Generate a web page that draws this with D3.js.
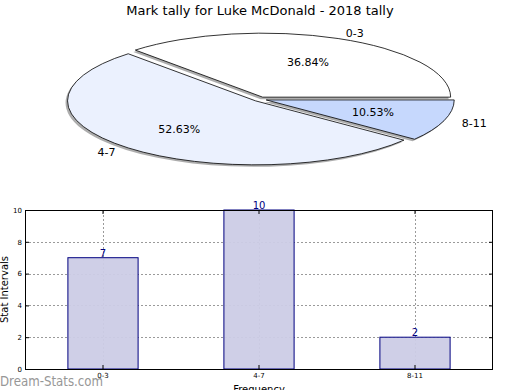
<!DOCTYPE html>
<html>
<head>
<meta charset="utf-8">
<script src="https://cdn.jsdelivr.net/npm/d3@7"></script>
<style>
  body { margin: 0; background: #fff; }
  svg { display: block; font-family: "DejaVu Sans", sans-serif; }
</style>
</head>
<body>
<svg id="chart" width="520" height="390"></svg>
<script>
const title = "Mark tally for Luke McDonald - 2018 tally";
const categories = ["0-3", "4-7", "8-11"];
const counts = [7, 10, 2];
const sliceColors = ["#ffffff", "#ebf1fe", "#c6d8fd"];
const yTicks = [0, 2, 4, 6, 8, 10];

const width = 520, height = 390;
const svg = d3.select("#chart").attr("viewBox", [0, 0, width, height]);

svg.append("text")
  .attr("x", 260).attr("y", 15)
  .attr("text-anchor", "middle")
  .attr("font-size", 13)
  .text(title);

// ---- pie (squashed into an ellipse) ----
const cx = 260, cy = 99.2, rx = 188, ry = 64, R = 100, explode = 0.035;
const total = d3.sum(counts);

// matplotlib starts at 3 o'clock and goes counter-clockwise
const pie = d3.pie().sort(null).startAngle(Math.PI / 2).endAngle(Math.PI / 2 - 2 * Math.PI);
const arcs = pie(counts);
const arc = d3.arc().innerRadius(0).outerRadius(R);

const mid = d => (d.startAngle + d.endAngle) / 2;
const offs = d => [Math.sin(mid(d)) * explode * R, -Math.cos(mid(d)) * explode * R];

const shadow = svg.append("g")
  .attr("transform", `translate(${cx - 2},${cy + 2}) scale(${rx / R},${ry / R})`);
shadow.selectAll("path")
  .data(arcs)
  .join("path")
  .attr("transform", d => `translate(${offs(d)})`)
  .attr("d", arc)
  .attr("fill", "#777")
  .attr("opacity", 0.6);

const pieG = svg.append("g")
  .attr("transform", `translate(${cx},${cy}) scale(${rx / R},${ry / R})`);
pieG.selectAll("path")
  .data(arcs)
  .join("path")
  .attr("transform", d => `translate(${offs(d)})`)
  .attr("d", arc)
  .attr("fill", (d, i) => sliceColors[i])
  .attr("stroke", "#000")
  .attr("stroke-width", 0.8)
  .attr("vector-effect", "non-scaling-stroke");

// labels in pixel space
const toPx = (d, dist) => {
  const a = mid(d);
  return [cx + Math.sin(a) * (dist + explode) * rx, cy - Math.cos(a) * (dist + explode) * ry];
};

svg.append("g").selectAll("text")
  .data(arcs)
  .join("text")
  .attr("x", d => toPx(d, 1.1)[0])
  .attr("y", d => toPx(d, 1.1)[1])
  .attr("dy", "0.35em")
  .attr("text-anchor", d => Math.sin(mid(d)) > 0 ? "start" : "end")
  .attr("font-size", 11)
  .text((d, i) => categories[i]);

svg.append("g").selectAll("text")
  .data(arcs)
  .join("text")
  .attr("x", d => toPx(d, 0.6)[0])
  .attr("y", d => toPx(d, 0.6)[1])
  .attr("dy", "0.35em")
  .attr("text-anchor", "middle")
  .attr("font-size", 11)
  .text(d => (d.value / total * 100).toFixed(2) + "%");

// ---- bar chart ----
const margin = { top: 210, right: 27, bottom: 21, left: 25 };
const x = d3.scaleBand()
  .domain(categories)
  .range([margin.left, width - margin.right])
  .padding(0);
const y = d3.scaleLinear()
  .domain([0, 10])
  .range([height - margin.bottom, margin.top]);

const barW = x.bandwidth() * 0.45;
const xc = c => Math.round(x(c) + x.bandwidth() / 2);

// dotted grid
const grid = svg.append("g");
grid.selectAll(".gy")
  .data(yTicks.slice(1, -1))
  .join("line")
  .attr("x1", x.range()[0]).attr("x2", x.range()[1])
  .attr("y1", d => Math.round(y(d)) + 0.5).attr("y2", d => Math.round(y(d)) + 0.5);
grid.selectAll(".gx")
  .data(categories)
  .join("line")
  .attr("x1", d => xc(d) + 0.5).attr("x2", d => xc(d) + 0.5)
  .attr("y1", y(0)).attr("y2", y(10));
grid.selectAll("line")
  .attr("stroke", "#9a9a9a")
  .attr("stroke-width", 1)
  .attr("stroke-dasharray", "2 2");

svg.append("g").selectAll("rect")
  .data(counts)
  .join("rect")
  .attr("x", (d, i) => xc(categories[i]) - barW / 2)
  .attr("y", d => y(d))
  .attr("width", barW)
  .attr("height", d => y(0) - y(d))
  .attr("fill", "#cccce6")
  .attr("fill-opacity", 0.95)
  .attr("stroke", "#000080")
  .attr("stroke-width", 1);

svg.append("g").selectAll("text")
  .data(counts)
  .join("text")
  .attr("x", (d, i) => xc(categories[i]))
  .attr("y", d => y(d) - 1)
  .attr("text-anchor", "middle")
  .attr("font-size", 10)
  .attr("fill", "#000080")
  .text(d => d);

// axes: ticks inward on all four sides
const yAxisL = d3.axisLeft(y).tickValues(yTicks).tickSize(-4).tickPadding(3);
const yAxisR = d3.axisRight(y).tickValues(yTicks).tickSize(-4).tickFormat("");
const xAxisB = d3.axisBottom(x).tickSize(-4).tickPadding(4);
const xAxisT = d3.axisTop(x).tickSize(-4).tickFormat("");

const styleAxis = g => {
  g.select(".domain").remove();
  g.selectAll("text").attr("font-size", 7).attr("font-family", "DejaVu Sans, sans-serif");
  g.selectAll("line").attr("stroke", "#000");
};

svg.append("g").attr("transform", `translate(${margin.left},0)`).call(yAxisL).call(styleAxis);
svg.append("g").attr("transform", `translate(${width - margin.right},0)`).call(yAxisR).call(styleAxis);
svg.append("g").attr("transform", `translate(0,${height - margin.bottom})`).call(xAxisB).call(styleAxis);
svg.append("g").attr("transform", `translate(0,${margin.top})`).call(xAxisT).call(styleAxis);

svg.append("rect")
  .attr("x", margin.left + 0.5).attr("y", margin.top + 0.5)
  .attr("width", width - margin.left - margin.right - 1)
  .attr("height", height - margin.top - margin.bottom)
  .attr("fill", "none")
  .attr("stroke", "#000");

svg.append("text")
  .attr("x", (margin.left + width - margin.right) / 2)
  .attr("y", 393)
  .attr("text-anchor", "middle")
  .attr("font-size", 10)
  .text("Frequency");

svg.append("text")
  .attr("transform", `translate(8,${(margin.top + height - margin.bottom) / 2}) rotate(-90)`)
  .attr("text-anchor", "middle")
  .attr("font-size", 10)
  .text("Stat Intervals");

svg.append("text")
  .attr("x", 0).attr("y", 386)
  .attr("font-size", 14)
  .attr("textLength", 103)
  .attr("lengthAdjust", "spacingAndGlyphs")
  .attr("fill", "#8c8c8c")
  .attr("opacity", 0.9)
  .text("Dream-Stats.com");
</script>
</body>
</html>
